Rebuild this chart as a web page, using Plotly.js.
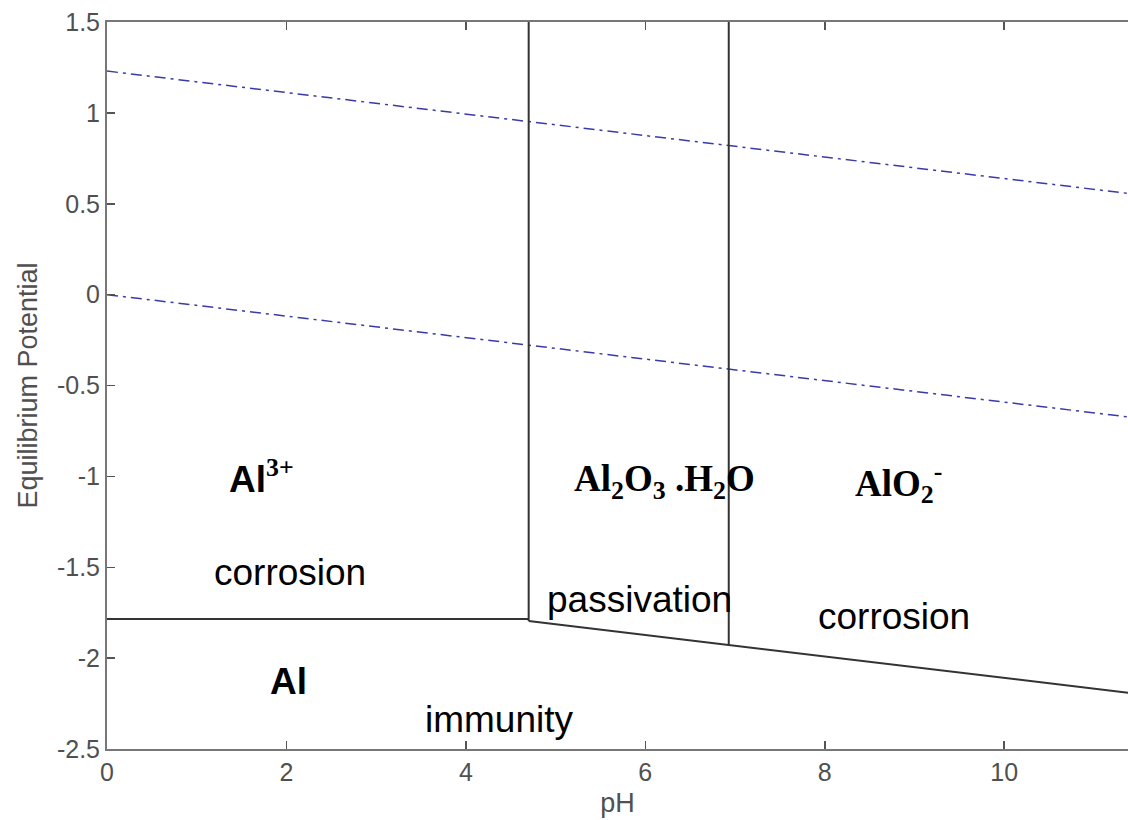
<!DOCTYPE html>
<html><head><meta charset="utf-8">
<script src="https://cdn.plot.ly/plotly-3.0.1.min.js"></script>
<style>html,body{margin:0;padding:0;background:#fff}</style>
</head><body><div id="chart" style="width:1128px;height:820px"></div>
<script>
// Water stability lines (dash-dot)
const pH_water = [0, 11.38];
const E_O2 = [1.23, 0.557];
const E_H2 = [0.0, -0.673];
// Al3+/Al boundary
const pH_al3 = [0, 4.7];
const E_al3 = [-1.785, -1.785];
// Oxide / Al boundary
const pH_ox = [4.7, 6.93, 11.38];
const E_ox = [-1.796, -1.928, -2.19];
// Vertical boundaries
const pH_v1 = [4.7, 4.7];
const E_v1 = [-1.796, 1.5];
const pH_v2 = [6.93, 6.93];
const E_v2 = [-1.928, 1.5];
// Region labels
const speciesLabels = ['Al', '3+', 'Al<sub>2</sub>O<sub>3</sub> .H<sub>2</sub>O', 'AlO<sub>2</sub><sup>-</sup>', 'Al'];
const stateLabels = ['corrosion', 'passivation', 'corrosion', 'immunity'];
const xTicks = [0, 2, 4, 6, 8, 10];
const yTicks = [-2.5, -2, -1.5, -1, -0.5, 0, 0.5, 1, 1.5];

const blue = '#3a3aa8';
const dark = '#333333';
const traces = [
  {x: pH_water, y: E_O2, mode: 'lines', line: {color: blue, width: 1.5, dash: '11px,5px,3px,5px'}},
  {x: pH_water, y: E_H2, mode: 'lines', line: {color: blue, width: 1.5, dash: '11px,5px,3px,5px'}},
  {x: pH_al3, y: E_al3, mode: 'lines', line: {color: dark, width: 2}},
  {x: pH_ox, y: E_ox, mode: 'lines', line: {color: dark, width: 2}},
  {x: pH_v1, y: E_v1, mode: 'lines', line: {color: dark, width: 2}},
  {x: pH_v2, y: E_v2, mode: 'lines', line: {color: dark, width: 2}}
];

const boldSans = {family: 'Liberation Sans, Arial, sans-serif', size: 37, color: '#000'};
const boldSerif = {family: 'Liberation Serif, Times New Roman, serif', size: 37, color: '#000'};
const plainSans = {family: 'Liberation Sans, Arial, sans-serif', size: 37, color: '#000'};
const annotations = [
  {x: 1.34, y: -1.0, text: '<b>' + speciesLabels[0] + '</b><sup><span style="font-family:Liberation Serif, serif;font-weight:bold">' + speciesLabels[1] + '</span></sup>', xanchor: 'left', yanchor: 'middle', font: boldSans},
  {x: 5.18, y: -1.03, text: '<b>' + speciesLabels[2] + '</b>', xanchor: 'left', yanchor: 'middle', font: boldSerif},
  {x: 8.31, y: -1.035, text: '<b>' + speciesLabels[3] + '</b>', xanchor: 'left', yanchor: 'middle', font: boldSerif},
  {x: 2.02, y: -2.13, text: '<b>' + speciesLabels[4] + '</b>', xanchor: 'center', yanchor: 'middle', font: boldSans},
  {x: 2.04, y: -1.53, text: stateLabels[0], xanchor: 'center', yanchor: 'middle', font: plainSans},
  {x: 5.94, y: -1.68, text: stateLabels[1], xanchor: 'center', yanchor: 'middle', font: plainSans},
  {x: 8.77, y: -1.77, text: stateLabels[2], xanchor: 'center', yanchor: 'middle', font: plainSans},
  {x: 4.38, y: -2.34, text: stateLabels[3], xanchor: 'center', yanchor: 'middle', font: plainSans}
].map(a => Object.assign({xref: 'x', yref: 'y', showarrow: false}, a));

const layout = {
  width: 1128, height: 820,
  margin: {l: 107, r: 0, t: 22, b: 71, pad: 0},
  paper_bgcolor: '#fff', plot_bgcolor: '#fff',
  showlegend: false,
  font: {family: 'Liberation Sans, Arial, sans-serif', color: '#505050'},
  xaxis: {
    range: [0, 11.38], tickvals: xTicks, ticktext: xTicks.map(String),
    ticks: 'inside', ticklen: 8, tickwidth: 1.5, tickcolor: '#555',
    showline: true, linecolor: '#777', linewidth: 2, mirror: 'ticks',
    showgrid: false, zeroline: false, automargin: false,
    tickfont: {size: 25, color: '#505050'},
    title: {text: 'pH', font: {size: 27, color: '#505050'}, standoff: 8}
  },
  yaxis: {
    range: [-2.5, 1.5], tickvals: yTicks, ticktext: yTicks.map(String),
    ticks: 'inside', ticklen: 8, tickwidth: 1.5, tickcolor: '#555',
    showline: true, linecolor: '#777', linewidth: 2, mirror: false,
    showgrid: false, zeroline: false, automargin: false,
    tickfont: {size: 25, color: '#505050'},
    title: {text: 'Equilibrium Potential', font: {size: 27, color: '#505050'}, standoff: 11}
  },
  annotations: annotations
};

Plotly.newPlot('chart', traces, layout, {displayModeBar: false, staticPlot: true});
</script></body></html>
